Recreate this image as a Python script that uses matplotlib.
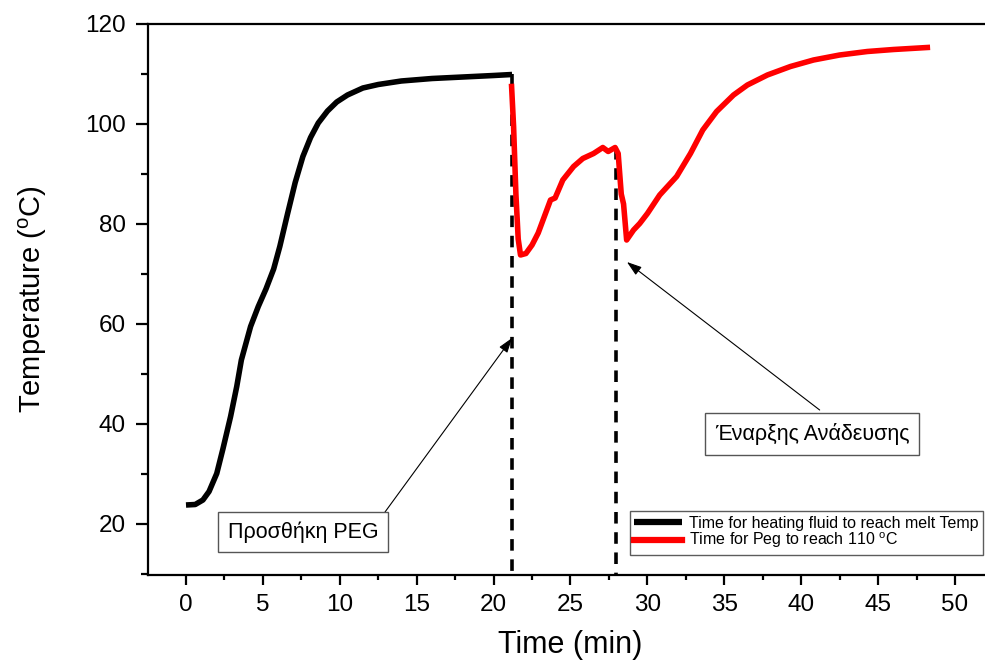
import matplotlib
matplotlib.use("Agg")
import matplotlib.pyplot as plt
from matplotlib.ticker import MultipleLocator

plt.rcParams['font.family'] = ['Liberation Sans', 'DejaVu Sans']
plt.rcParams['mathtext.fontset'] = 'custom'
plt.rcParams['mathtext.rm'] = 'Liberation Sans'
plt.rcParams['mathtext.it'] = 'Liberation Sans:italic'

# ---- data ----
heat_time = [0, 0.6, 1.1, 1.5, 2.0, 2.4, 2.9, 3.3, 3.6, 4.2, 4.7, 5.2, 5.7, 6.1,
             6.6, 7.1, 7.6, 8.1, 8.6, 9.2, 9.8, 10.5, 11.5, 12.5, 14, 16, 18, 20, 21.2]
heat_temp = [23.8, 23.9, 24.8, 26.5, 30.1, 35, 41.5, 47.5, 52.8, 59.5, 63.5, 67.0, 71.0,
             75.5, 82.0, 88.3, 93.5, 97.3, 100.2, 102.6, 104.4, 105.8, 107.2, 107.9,
             108.6, 109.1, 109.4, 109.7, 109.9]

peg_time = [21.17, 21.3, 21.45, 21.6, 21.75, 22.1, 22.5, 22.9, 23.3, 23.7, 24.0, 24.5,
            25.2, 25.8, 26.5, 27.1, 27.45, 27.9, 28.1, 28.3, 28.45, 28.65, 29.1, 29.5,
            30.0, 30.8, 31.9, 32.8, 33.6, 34.5, 35.6, 36.5, 37.8, 39.3, 40.8, 42.5,
            44.3, 46.0, 48.2]
peg_temp = [107.5, 99.5, 86, 77, 73.8, 74.1, 75.8, 78.2, 81.5, 84.8, 85.2, 88.8,
            91.5, 93.1, 94.1, 95.3, 94.5, 95.3, 94.1, 86, 84, 76.8, 78.8, 80.1,
            82.1, 85.8, 89.5, 94.1, 98.8, 102.5, 105.8, 107.8, 109.8, 111.5, 112.8,
            113.8, 114.5, 114.9, 115.3]

event_times = [21.2, 27.95]
event_temps = [110, 95.3]

series_labels = ["Time for heating fluid to reach melt Temp",
                 "Time for Peg to reach 110 $^{\\mathrm{o}}$C"]
annot_texts = ["Προσθήκη PEG", "Έναρξης Ανάδευσης"]
annot_targets = [(21.2, 57.2), (28.67, 72.4)]
annot_starts = [(12.94, 22.4), (41.2, 42.8)]
annot_text_pos = [(7.6, 18.4), (40.7, 38.0)]

x_ticks = list(range(0, 51, 5))
y_ticks = [20, 40, 60, 80, 100, 120]

# ---- figure ----
fig = plt.figure(figsize=(9.85, 6.64), dpi=100)
ax = fig.add_axes([148/985, 89/664, 837/985, 551/664])

ymin = 9.8
ax.set_xlim(-2.47, 51.95)
ax.set_ylim(ymin, 120)

for t, v in zip(event_times, event_temps):
    ax.plot([t, t], [v, ymin], color='black', lw=2.6, ls=(0, (3.2, 2.4)),
            zorder=2, clip_on=False)

l1, = ax.plot(heat_time, heat_temp, color='black', lw=4.0, solid_capstyle='butt',
              zorder=3, label=series_labels[0])
l2, = ax.plot(peg_time, peg_temp, color='#ff0000', lw=4.0, zorder=3,
              label=series_labels[1])

for txt, tgt, st, tp in zip(annot_texts, annot_targets, annot_starts, annot_text_pos):
    ax.annotate('', xy=tgt, xytext=st,
                arrowprops=dict(arrowstyle='-|>,head_length=0.9,head_width=0.3',
                                color='black', lw=0.8, shrinkA=0, shrinkB=0))
    ax.text(tp[0], tp[1], txt, fontsize=15.5, ha='center', va='center',
            bbox=dict(boxstyle='square,pad=0.45', fc='white', ec='#555555', lw=1))

ax.spines['right'].set_visible(False)
for s in ['left', 'bottom', 'top']:
    ax.spines[s].set_linewidth(1.6)

ax.set_xticks(x_ticks)
ax.set_yticks(y_ticks)
ax.xaxis.set_minor_locator(MultipleLocator(2.5))
ax.yaxis.set_minor_locator(MultipleLocator(10))
ax.tick_params(axis='x', which='major', direction='out', length=7, width=1.6,
               labelsize=17.5, pad=7)
ax.tick_params(axis='x', which='minor', direction='out', length=3.5, width=1.6)
ax.tick_params(axis='y', which='major', direction='out', length=9, width=1.6,
               labelsize=17.5, pad=7)
ax.tick_params(axis='y', which='minor', direction='out', length=5, width=1.6)
ax.tick_params(top=False, which='both')

ax.set_xlabel('Time (min)', fontsize=22)
ax.set_ylabel('Temperature ($^{\\mathrm{o}}$C)', fontsize=21)
ax.xaxis.set_label_coords(0.505, -0.1)
ax.yaxis.set_label_coords(-0.118, 0.5)

leg = ax.legend(handles=[l1, l2], loc='lower right',
                bbox_to_anchor=(983/985, 109/664), bbox_transform=fig.transFigure,
                fontsize=11.5, frameon=True, fancybox=False, borderaxespad=0,
                handlelength=3.0, handletextpad=0.4, labelspacing=0.0,
                borderpad=0.3)
leg.get_frame().set_edgecolor('#333333')
leg.get_frame().set_linewidth(1)
for line in leg.get_lines():
    line.set_linewidth(4.5)

fig.savefig('out.png', dpi=100)
